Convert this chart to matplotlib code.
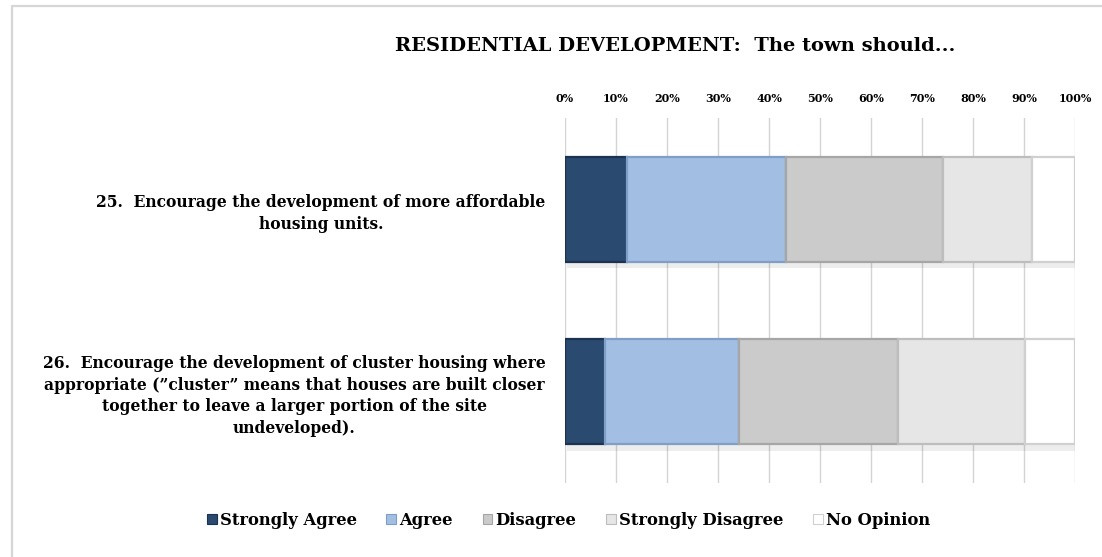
import matplotlib
matplotlib.use("Agg")
import matplotlib.pyplot as plt
from matplotlib.lines import Line2D
from matplotlib.patches import Patch
import numpy as np

plt.rcParams['font.family'] = ['DejaVu Serif']
plt.rcParams['font.weight'] = 'bold'

# Survey results (% of respondents)
questions = [
    "25.  Encourage the development of more affordable\nhousing units.",
    "26.  Encourage the development of cluster housing where\n"
    "appropriate (\u201dcluster\u201d means that houses are built closer\n"
    "together to leave a larger portion of the site\nundeveloped).",
]
responses = ["Strongly Agree", "Agree", "Disagree", "Strongly Disagree", "No Opinion"]
strongly_agree = [12.2, 7.8]
agree = [31.2, 26.3]
disagree = [30.7, 31.1]
strongly_disagree = [17.5, 24.9]
no_opinion = [8.4, 9.9]
tick_values = [0, 10, 20, 30, 40, 50, 60, 70, 80, 90, 100]
tick_labels = [f"{v}%" for v in tick_values]

series = [strongly_agree, agree, disagree, strongly_disagree, no_opinion]
fills = ["#2B4A6F", "#A2BEE2", "#CBCBCB", "#E6E6E6", "#FFFFFF"]
edges = ["#1B3350", "#7F9FC8", "#A6A6A6", "#BDBDBD", "#D0D0D0"]

fig = plt.figure(figsize=(11.02, 5.57), dpi=100)
ax = fig.add_axes([0.5127, 0.1329, 0.4628, 0.6553])

y = np.arange(len(questions))
left = np.zeros(len(questions))
for vals, fc, ec, name in zip(series, fills, edges, responses):
    vals = np.asarray(vals)
    # soft drop shadow under each segment
    ax.barh(y + 0.035, vals, left=left + 0.4, height=0.575, color="#000000",
            alpha=0.07, linewidth=0, zorder=2)
    ax.barh(y, vals, left=left, height=0.575, color=fc, edgecolor=ec,
            linewidth=1.6, zorder=3, label=name)
    left += vals

ax.set_xlim(0, 100)
ax.set_ylim(len(questions) - 0.5, -0.5)
ax.set_xticks(tick_values)
ax.set_xticklabels(tick_labels, fontsize=8, fontweight='bold')
ax.xaxis.tick_top()
ax.tick_params(axis='x', length=0, pad=10)
ax.set_yticks(y)
ax.set_yticklabels(questions, fontsize=11.2, fontweight='bold',
                   multialignment='center', linespacing=1.35)
ax.tick_params(axis='y', length=0, pad=14)
ax.grid(axis='x', color="#D4D4D4", linewidth=1.0, zorder=0)
ax.set_axisbelow(True)
for s in ax.spines.values():
    s.set_visible(False)

fig.text(0.613, 0.918, "RESIDENTIAL DEVELOPMENT:  The town should...",
         ha='center', va='center', fontsize=14, fontweight='bold')

handles = [Patch(facecolor=fc, edgecolor=ec, linewidth=0.8)
           for fc, ec in zip(fills, edges)]
fig.legend(handles, responses, loc='center', bbox_to_anchor=(0.516, 0.066),
           ncol=5, frameon=False, handlelength=0.6,
           handleheight=0.6, handletextpad=0.2, columnspacing=1.8,
           prop={'weight': 'bold', 'size': 11.8})

# chart frame
fig.add_artist(Line2D([12 / 1102, 12 / 1102, 1.0], [0.0, 1 - 6 / 557, 1 - 6 / 557],
                      transform=fig.transFigure, color="#D6D6D6", linewidth=1.6))

fig.savefig("out.png", dpi=100, facecolor="white")
